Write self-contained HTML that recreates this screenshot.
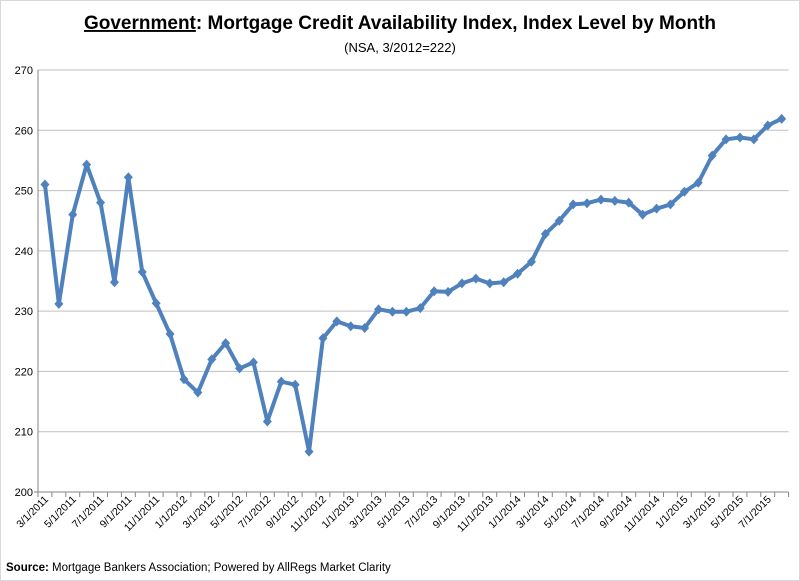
<!DOCTYPE html>
<html><head><meta charset="utf-8"><style>
body{margin:0;background:#fff;}
svg{display:block;font-family:"Liberation Sans",Calibri,sans-serif;}
</style></head><body>
<svg id="chart" width="800" height="581">
<rect x="0.5" y="0.5" width="799" height="580" fill="#fff" stroke="#d9d9d9"/>
<text x="400" y="29" text-anchor="middle" font-size="19" font-weight="bold" fill="#000"><tspan text-decoration="underline">Government</tspan>: Mortgage Credit Availability Index, Index Level by Month</text>
<text x="400" y="52" text-anchor="middle" font-size="13" fill="#000">(NSA, 3/2012=222)</text>
<g id="grid"></g><g id="axes"></g><g id="series"></g>
<text x="6" y="571" font-size="11.5" fill="#000"><tspan font-weight="bold">Source:</tspan> Mortgage Bankers Association; Powered by AllRegs Market Clarity</text>
</svg>
<script>
const values=[251,231.2,246,254.3,248,234.8,252.2,236.5,231.3,226.2,218.7,216.5,222,224.7,220.5,221.5,211.7,218.3,217.8,206.7,225.5,228.3,227.5,227.2,230.3,229.9,229.9,230.5,233.3,233.2,234.6,235.4,234.6,234.8,236.2,238.2,242.8,245,247.7,247.9,248.5,248.3,248,246,247,247.7,249.8,251.3,255.8,258.5,258.8,258.5,260.8,261.9];
const yTicks=[200,210,220,230,240,250,260,270];
const startYear=2011,startMonth=3;
const NS='http://www.w3.org/2000/svg';
const x0=38,step=13.9,yTop=70,yBot=492,yMin=200,yMax=270;
const xs=i=>x0+step*(i+0.5);
const ys=v=>yBot-(v-yMin)/(yMax-yMin)*(yBot-yTop);
function mk(t,a,p){const e=document.createElementNS(NS,t);for(const k in a)e.setAttribute(k,a[k]);p.appendChild(e);return e;}
const grid=document.getElementById('grid'),axes=document.getElementById('axes'),ser=document.getElementById('series');
const xEnd=x0+step*values.length;
yTicks.forEach(v=>{
 if(v>yMin){const l=mk('line',{x1:x0,x2:xEnd,y1:ys(v),y2:ys(v),stroke:'#bfbfbf','stroke-width':1},grid);
 
 }
 const t=mk('text',{x:x0-5,y:ys(v)+4,'text-anchor':'end','font-size':11,fill:'#000'},axes);t.textContent=v;
 
 
});
const ya=mk('line',{x1:x0,x2:x0,y1:yTop,y2:yBot,stroke:'#868686'},axes);


const xa=mk('line',{x1:x0-4,x2:xEnd,y1:yBot,y2:yBot,stroke:'#868686'},axes);


for(let i=0;i<=values.length;i++){const tx=x0+step*i;mk('line',{x1:tx,x2:tx,y1:yBot,y2:yBot+5,stroke:'#868686'},axes);}
for(let i=0;i<values.length;i+=2){
 const m=(startMonth-1+i)%12+1,y=startYear+Math.floor((startMonth-1+i)/12);
 const lx=xs(i)+4,ly=yBot+8;
 const t=mk('text',{x:lx,y:ly,'text-anchor':'end','font-size':10.5,fill:'#000',transform:`rotate(-45 ${lx} ${ly})`},axes);
 t.textContent=m+'/1/'+y;
 
 
}
const pl=mk('polyline',{points:values.map((v,i)=>xs(i)+','+ys(v)).join(' '),fill:'none',stroke:'#4f81bd','stroke-width':4,'stroke-linejoin':'round'},ser);


values.forEach((v,i)=>{const cx=xs(i),cy=ys(v);
 const d=mk('polygon',{points:`${cx},${cy-5} ${cx+4.5},${cy} ${cx},${cy+5} ${cx-4.5},${cy}`,fill:'#4f81bd'},ser);
 
 
});
</script>
</body></html>
